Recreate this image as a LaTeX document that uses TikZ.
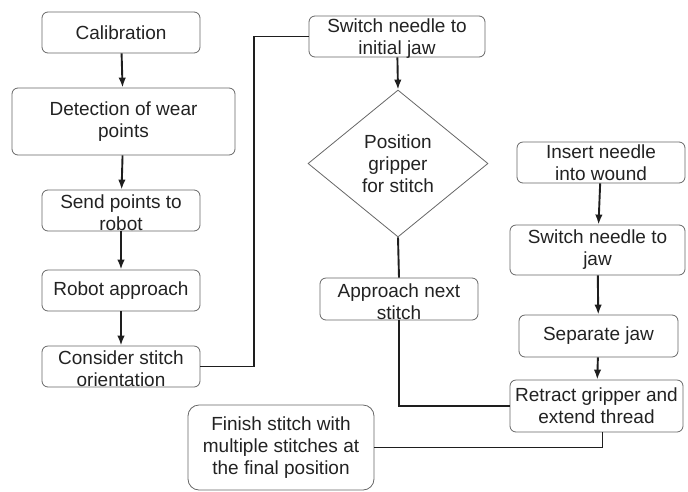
\documentclass[tikz,border=0pt]{standalone}
\usepackage{fontspec}
\setmainfont{Liberation Sans}
\usetikzlibrary{shapes.geometric,arrows.meta}
\definecolor{boxline}{HTML}{666666}
\definecolor{txt}{HTML}{222222}
\definecolor{conn}{HTML}{1E1E1E}
\begin{document}
\begin{tikzpicture}[x=1pt,y=-1pt,
  stepbox/.style={draw=boxline, line width=0.8pt, rounded corners=6pt, align=center,
    inner sep=0pt, text=txt, font=\fontsize{19}{22}\selectfont},
  decision/.style={draw=boxline, line width=0.8pt, shape=diamond, inner sep=0pt, align=center,
    text=txt, font=\fontsize{19}{22}\selectfont, minimum width=180pt, minimum height=147pt},
  label/.style={text=txt, font=\fontsize{19}{22}\selectfont, align=center, inner sep=0pt},
  link/.style={draw=conn, line width=1.9pt},
  arr/.style={link, -{Latex[length=10pt,width=7.5pt]}}]
\useasboundingbox (0,0) rectangle (688,491);

\node[stepbox, minimum width=158pt, minimum height=41pt] (cal) at (121,32.5) {Calibration};
\node[stepbox, minimum width=223pt, minimum height=67pt] (det) at (123.5,121.5) {Detection of wear\\points};
\node[stepbox, minimum width=158pt, minimum height=41pt] (send) at (121,210.5) {};
\node[label] (sendt) at (121,213) {Send points to\\robot};
\node[stepbox, minimum width=158pt, minimum height=41pt] (rob) at (121,290.5) {Robot approach};
\node[stepbox, minimum width=158pt, minimum height=41pt] (cons) at (121,366.5) {};
\node[label] (const) at (121,369) {Consider stitch\\orientation};

\node[stepbox, minimum width=176pt, minimum height=41pt] (sw1) at (397,36.5) {};
\node[label] (sw1t) at (397,39) {Switch needle to\\initial jaw};
\node[decision] (pos) at (398,163.5) {Position\\gripper\\for stitch};
\node[stepbox, minimum width=158pt, minimum height=42pt] (appr) at (399,299) {};
\node[label] (apprt) at (399,302) {Approach next\\stitch};

\node[stepbox, minimum width=168pt, minimum height=41pt] (ins) at (601,162.5) {Insert needle\\into wound};
\node[stepbox, minimum width=175pt, minimum height=50pt] (sw2) at (597.5,250) {Switch needle to\\jaw};
\node[stepbox, minimum width=159pt, minimum height=42pt] (sep) at (598.5,336) {Separate jaw};
\node[stepbox, minimum width=173pt, minimum height=52pt] (ret) at (596.5,406) {Retract gripper and\\extend thread};
\node[stepbox, rounded corners=11pt, minimum width=186pt, minimum height=85pt] (fin) at (281,447.5) {Finish stitch with\\multiple stitches at\\the final position};

\draw[arr] (cal) -- (det);
\draw[arr] (det) -- (send);
\draw[arr] (send) -- (rob);
\draw[arr] (rob) -- (cons);
\draw[link] (cons.east) -- ++(54,0) |- (sw1.west);
\draw[arr] (sw1) -- (pos.north);
\draw[link] (pos.south) -- (appr.north);
\draw[link] (appr.south) |- (ret.west);
\draw[arr] (ins) -- (sw2);
\draw[arr] (sw2) -- (sep);
\draw[arr] (sep) -- (ret);
\draw[link] ([xshift=6pt]ret.south) |- (fin.east);
\end{tikzpicture}
\end{document}
